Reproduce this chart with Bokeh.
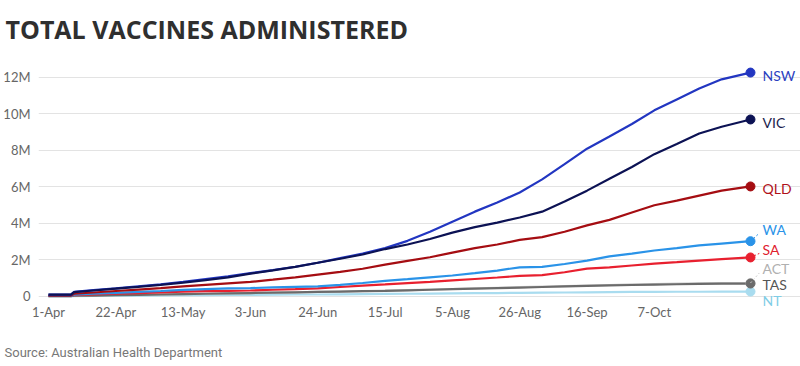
import pandas as pd
from bokeh.plotting import figure
from bokeh.models import (Range1d, FixedTicker, DatetimeTickFormatter, LabelSet,
                          Title, ColumnDataSource, CustomJSTickFormatter)
from bokeh.core.properties import value
from bokeh.embed import file_html
from bokeh.resources import INLINE

dates = ["2021-04-01", "2021-04-08", "2021-04-09", "2021-04-15", "2021-04-22", "2021-04-29",
         "2021-05-06", "2021-05-13", "2021-05-20", "2021-05-27", "2021-06-03", "2021-06-10",
         "2021-06-17", "2021-06-24", "2021-07-01", "2021-07-08", "2021-07-15", "2021-07-22",
         "2021-07-29", "2021-08-05", "2021-08-12", "2021-08-19", "2021-08-26", "2021-09-02",
         "2021-09-09", "2021-09-16", "2021-09-23", "2021-09-30", "2021-10-07", "2021-10-14",
         "2021-10-21", "2021-10-28", "2021-11-06"]

# millions of doses
nsw = [0.10, 0.10, 0.25, 0.35, 0.45, 0.56, 0.67, 0.80, 0.95, 1.10, 1.28, 1.45, 1.63, 1.85, 2.10,
       2.35, 2.65, 3.05, 3.55, 4.10, 4.65, 5.15, 5.70, 6.42, 7.25, 8.10, 8.77, 9.45, 10.20, 10.80,
       11.40, 11.90, 12.27]
vic = [0.10, 0.10, 0.24, 0.33, 0.43, 0.53, 0.64, 0.76, 0.90, 1.05, 1.25, 1.43, 1.62, 1.85, 2.07,
       2.30, 2.60, 2.85, 3.15, 3.50, 3.80, 4.05, 4.33, 4.65, 5.20, 5.80, 6.45, 7.10, 7.80, 8.35,
       8.93, 9.30, 9.70]
qld = [0.05, 0.05, 0.15, 0.22, 0.30, 0.38, 0.46, 0.56, 0.64, 0.72, 0.80, 0.92, 1.05, 1.20, 1.35,
       1.52, 1.75, 1.95, 2.15, 2.40, 2.65, 2.85, 3.10, 3.25, 3.55, 3.90, 4.20, 4.60, 5.00, 5.25,
       5.53, 5.80, 6.03]
wa = [0.03, 0.03, 0.10, 0.15, 0.20, 0.25, 0.30, 0.36, 0.40, 0.44, 0.46, 0.50, 0.53, 0.56, 0.64,
      0.74, 0.86, 0.95, 1.05, 1.15, 1.28, 1.42, 1.60, 1.62, 1.78, 1.97, 2.20, 2.35, 2.52, 2.65,
      2.80, 2.90, 3.03]
sa = [0.03, 0.03, 0.08, 0.11, 0.15, 0.19, 0.22, 0.27, 0.29, 0.31, 0.33, 0.37, 0.40, 0.44, 0.52,
      0.60, 0.66, 0.73, 0.80, 0.88, 0.96, 1.04, 1.13, 1.17, 1.33, 1.53, 1.60, 1.70, 1.80, 1.88,
      1.97, 2.05, 2.14]
act = [0.02, 0.02, 0.04, 0.05, 0.07, 0.09, 0.11, 0.13, 0.15, 0.17, 0.19, 0.21, 0.23, 0.25, 0.27,
       0.29, 0.32, 0.35, 0.38, 0.41, 0.45, 0.48, 0.51, 0.54, 0.57, 0.60, 0.63, 0.66, 0.68, 0.70,
       0.72, 0.73, 0.74]
tas = [0.02, 0.02, 0.04, 0.05, 0.07, 0.09, 0.11, 0.13, 0.15, 0.17, 0.19, 0.21, 0.23, 0.25, 0.27,
       0.29, 0.31, 0.34, 0.37, 0.40, 0.43, 0.46, 0.49, 0.52, 0.55, 0.58, 0.61, 0.63, 0.65, 0.67,
       0.69, 0.70, 0.71]
nt = [0.01, 0.01, 0.02, 0.03, 0.04, 0.05, 0.06, 0.07, 0.08, 0.09, 0.09, 0.10, 0.11, 0.11, 0.12,
      0.13, 0.14, 0.15, 0.16, 0.17, 0.18, 0.19, 0.20, 0.21, 0.22, 0.23, 0.24, 0.25, 0.25, 0.26,
      0.26, 0.27, 0.27]

states = ["NT", "ACT", "TAS", "SA", "WA", "QLD", "NSW", "VIC"]
series = {"NSW": nsw, "VIC": vic, "QLD": qld, "WA": wa, "SA": sa, "ACT": act, "TAS": tas, "NT": nt}
line_colors = {"NSW": "#2236c1", "VIC": "#0c1254", "QLD": "#a50d12", "WA": "#2a93e8",
               "SA": "#e8202f", "ACT": "#cfcfcf", "TAS": "#6b6b6b", "NT": "#a9dcef"}
label_colors = {"NSW": "#2b3fbf", "VIC": "#1a1d4d", "QLD": "#b0101a", "WA": "#2a93e8",
                "SA": "#e0202e", "ACT": "#b0b0b0", "TAS": "#555555", "NT": "#7fcde6"}
# label shift in screen pixels (positive = down)
label_dy = {"NSW": 3, "VIC": 3, "QLD": 2, "WA": -12, "SA": -8, "ACT": -14, "TAS": 1, "NT": 9}
leader = ["WA", "SA", "ACT"]

tick_dates = ["2021-04-01", "2021-04-22", "2021-05-13", "2021-06-03", "2021-06-24", "2021-07-15",
              "2021-08-05", "2021-08-26", "2021-09-16", "2021-10-07"]
y_ticks = [0, 2, 4, 6, 8, 10, 12]

x = pd.to_datetime(dates)
DAY = 86400000.0
x0 = pd.Timestamp("2021-04-01").value / 1e6

W, H = 800, 366
p = figure(width=W, height=H, output_backend="svg", toolbar_location=None,
           x_axis_type="datetime",
           x_range=Range1d(x0 - 3.12 * DAY, x0 + 234.6 * DAY),
           y_range=Range1d(-0.548, 13.315),
           min_border_left=38, min_border_right=0, min_border_top=53, min_border_bottom=60)
p.outline_line_color = None
p.background_fill_color = "white"
p.border_fill_color = "white"

p.xgrid.grid_line_color = None
p.ygrid.grid_line_color = "#e3e3e3"
p.ygrid.grid_line_width = 1
p.ygrid.bounds = (x0 - 3.12 * DAY, x0 + 222.7 * DAY)

p.xaxis.ticker = FixedTicker(ticks=[pd.Timestamp(d).value / 1e6 for d in tick_dates])
p.xaxis.formatter = DatetimeTickFormatter(days="%-d-%b", months="%-d-%b")
p.yaxis.ticker = FixedTicker(ticks=y_ticks)
p.yaxis.formatter = CustomJSTickFormatter(code="return tick == 0 ? '0' : tick + 'M';")
for ax in (p.xaxis[0], p.yaxis[0]):
    ax.axis_line_color = None
    ax.major_tick_line_color = None
    ax.minor_tick_line_color = None
    ax.major_tick_out = 0
    ax.major_tick_in = 0
    ax.minor_tick_out = 0
    ax.minor_tick_in = 0
    ax.major_label_text_font = "Lato"
    ax.major_label_text_font_size = "13px"
    ax.major_label_text_color = "#666666"
p.xaxis.major_label_standoff = -3
p.yaxis.major_label_standoff = 8

for s in states:
    p.line(x, series[s], line_color=line_colors[s], line_width=2.2)

for s in states:
    vals = series[s]
    p.scatter([x[-1]], [vals[-1]], size=9, fill_color=line_colors[s], line_color=line_colors[s])

# dotted leader lines from end dot to displaced labels
px_per_m = 18.25
for s in leader:
    v = series[s][-1]
    p.segment(x0=[x[-1]], y0=[v], x1=[x[-1] + pd.Timedelta(hours=66)],
              y1=[v - (label_dy[s] + 4) / px_per_m],
              line_color=line_colors[s], line_width=1, line_dash="2 2")

src = ColumnDataSource(dict(x=[x[-1]] * len(states), y=[series[s][-1] for s in states],
                            t=states, c=[label_colors[s] for s in states],
                            dy=[-label_dy[s] for s in states]))
labels = LabelSet(x="x", y="y", text="t", source=src, x_offset=12, y_offset="dy",
                  text_color="c", text_font=value("Lato"), text_font_size=value("14px"),
                  text_baseline="middle", text_align="left")
p.add_layout(labels)

p.title.text = "TOTAL VACCINES ADMINISTERED"
p.title.text_font = "Open Sans"
p.title.text_font_style = "bold"
p.title.text_font_size = "25px"
p.title.text_color = "#2f2f2f"
p.title.align = "left"
p.title.offset = -33
p.title.standoff = 15

spacer = Title(text=" ", text_font_size="2px", standoff=9)
p.add_layout(spacer, "below")
src_title = Title(text="Source: Australian Health Department", align="left",
                  text_font="Roboto", text_font_size="13px", text_font_style="normal",
                  text_color="#777777", offset=-34, standoff=14)
p.add_layout(src_title, "below")

open("out.html", "w").write(file_html(p, INLINE))
